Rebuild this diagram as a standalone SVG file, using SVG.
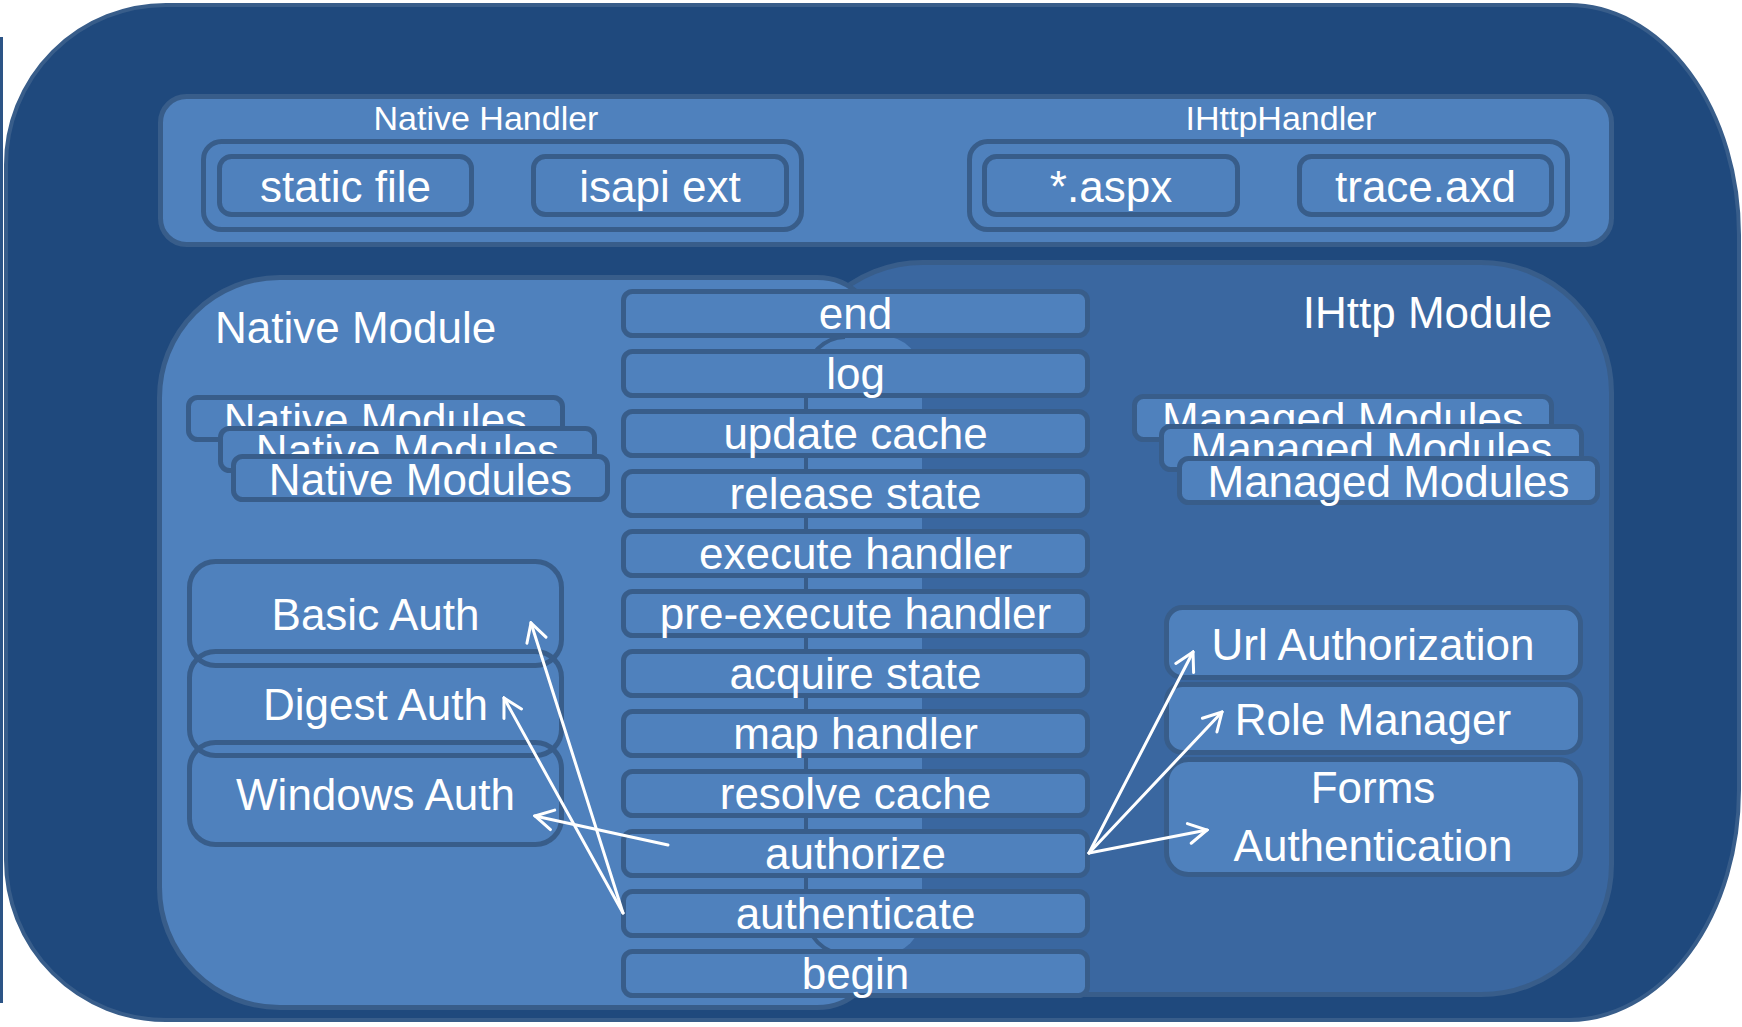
<svg xmlns="http://www.w3.org/2000/svg" width="1742" height="1027" viewBox="0 0 1742 1027">
<defs>
<style>
.box{fill:#4F81BD;stroke:#385D8A;stroke-width:5}
.open{fill:none;stroke:#385D8A;stroke-width:5}
.t{font-family:'Liberation Sans',Arial,sans-serif;fill:#FFFFFF;font-size:44px;text-anchor:middle}
.h{font-size:34px}
.s{text-anchor:start}
.arr{fill:none;stroke:#FFFFFF;stroke-width:3;stroke-linecap:round;marker-end:url(#ah)}
</style>
<marker id="ah" markerUnits="userSpaceOnUse" markerWidth="22" markerHeight="24" viewBox="0 0 22 24" refX="20" refY="12" orient="auto">
<path d="M2,2 L20,12 L2,22" fill="none" stroke="#FFFFFF" stroke-width="3" stroke-linecap="round"/>
</marker>
<clipPath id="clipN1"><rect x="186" y="395" width="380" height="31"/></clipPath>
<clipPath id="clipN2"><rect x="218" y="426" width="380" height="28"/></clipPath>
<clipPath id="clipM1"><rect x="1132" y="394" width="423" height="30"/></clipPath>
<clipPath id="clipM2"><rect x="1159" y="424" width="426" height="32"/></clipPath>
</defs>

<g id="background">
<line x1="1.5" y1="37" x2="1.5" y2="1003" stroke="#2C5486" stroke-width="3"/>
<path d="M166,5 H1569 A170,230 0 0 1 1739,235 V790 A170,230 0 0 1 1569,1020 H166 A160,160 0 0 1 6,860 V165 A160,160 0 0 1 166,5 Z" fill="#1F497D" stroke="#385D8A" stroke-width="4"/>
</g>

<g id="handler-band">
<rect class="box" x="160.5" y="96.5" width="1451" height="148" rx="26"/>
<text class="t h" x="486" y="130">Native Handler</text>
<text class="t h" x="1281" y="130">IHttpHandler</text>
</g>

<g id="native-handler">
<rect class="box" x="203.5" y="141.5" width="598" height="88" rx="18"/>
<g id="static-file">
<rect class="box" x="219.5" y="156.5" width="252" height="58" rx="12"/>
<text class="t" x="345.5" y="202">static file</text>
</g>
<g id="isapi-ext">
<rect class="box" x="533.5" y="156.5" width="253" height="58" rx="12"/>
<text class="t" x="660" y="202">isapi ext</text>
</g>
</g>

<g id="ihttp-handler">
<rect class="box" x="969.5" y="141.5" width="598" height="88" rx="18"/>
<g id="aspx">
<rect class="box" x="984.5" y="156.5" width="253" height="58" rx="12"/>
<text class="t" x="1111" y="202">*.aspx</text>
</g>
<g id="trace-axd">
<rect class="box" x="1299.5" y="156.5" width="252" height="58" rx="12"/>
<text class="t" x="1425.5" y="202">trace.axd</text>
</g>
</g>

<g id="ihttp-module">
<rect x="792.5" y="262.5" width="819" height="732" rx="130" fill="#3A67A0" stroke="#385D8A" stroke-width="5"/>
</g>

<g id="native-module">
<path d="M279.5,277.5 H817.5 A60,60 0 0 1 877.5,337.5 V947.5 A60,60 0 0 1 817.5,1007.5 H279.5 A120,120 0 0 1 159.5,887.5 V397.5 A120,120 0 0 1 279.5,277.5 Z" fill="#4F81BD" stroke="#385D8A" stroke-width="5"/>
<text class="t s" x="215" y="343">Native Module</text>
</g>

<g id="pipeline-column">
<rect x="805" y="336" width="117" height="619" rx="40" fill="#4F81BD"/>
<path d="M845,337 A40,40 0 0 0 806,376 V915 A40,40 0 0 0 845,954" fill="none" stroke="#385D8A" stroke-width="4"/>
</g>

<g id="ihttp-module-label">
<text class="t" x="1427.5" y="328">IHttp Module</text>
</g>

<g id="native-modules">
<rect class="box" x="188.5" y="397.5" width="374" height="42" rx="9"/>
<text class="t" x="375.5" y="435" clip-path="url(#clipN1)">Native Modules</text>
<rect class="box" x="220.5" y="428.5" width="374" height="42" rx="9"/>
<text class="t" x="407.5" y="466" clip-path="url(#clipN2)">Native Modules</text>
<rect class="box" x="233.5" y="456.5" width="374" height="43" rx="9"/>
<text class="t" x="420.5" y="495">Native Modules</text>
</g>

<g id="managed-modules">
<rect class="box" x="1134.5" y="396.5" width="417" height="43" rx="9"/>
<text class="t" x="1343" y="434" clip-path="url(#clipM1)">Managed Modules</text>
<rect class="box" x="1161.5" y="426.5" width="420" height="43" rx="9"/>
<text class="t" x="1371.5" y="464" clip-path="url(#clipM2)">Managed Modules</text>
<rect class="box" x="1179.5" y="458.5" width="418" height="44" rx="9"/>
<text class="t" x="1388.5" y="497">Managed Modules</text>
</g>

<g id="basic-auth">
<rect class="open" x="189.5" y="561.5" width="372" height="104" rx="26"/>
<text class="t" x="375.5" y="630">Basic Auth</text>
</g>
<g id="digest-auth">
<rect class="open" x="189.5" y="651.5" width="372" height="104" rx="26"/>
<text class="t" x="375.5" y="720">Digest Auth</text>
</g>
<g id="windows-auth">
<rect class="open" x="189.5" y="742.5" width="372" height="102" rx="26"/>
<text class="t" x="375.5" y="810">Windows Auth</text>
</g>

<g id="url-authorization">
<rect class="box" x="1166.5" y="607.5" width="414" height="70" rx="16"/>
<text class="t" x="1373" y="660">Url Authorization</text>
</g>
<g id="role-manager">
<rect class="box" x="1166.5" y="684.5" width="414" height="68" rx="16"/>
<text class="t" x="1373" y="735">Role Manager</text>
</g>
<g id="forms-authentication">
<rect class="box" x="1166.5" y="759.5" width="414" height="115" rx="22"/>
<text class="t" x="1373" y="803">Forms</text>
<text class="t" x="1373" y="861">Authentication</text>
</g>

<g id="stage-end"><rect class="box" x="623.5" y="291.5" width="464" height="44" rx="9"/><text class="t" x="855.5" y="329">end</text></g>
<g id="stage-log"><rect class="box" x="623.5" y="351.5" width="464" height="44" rx="9"/><text class="t" x="855.5" y="389">log</text></g>
<g id="stage-update-cache"><rect class="box" x="623.5" y="411.5" width="464" height="44" rx="9"/><text class="t" x="855.5" y="449">update cache</text></g>
<g id="stage-release-state"><rect class="box" x="623.5" y="471.5" width="464" height="44" rx="9"/><text class="t" x="855.5" y="509">release state</text></g>
<g id="stage-execute-handler"><rect class="box" x="623.5" y="531.5" width="464" height="44" rx="9"/><text class="t" x="855.5" y="569">execute handler</text></g>
<g id="stage-pre-execute-handler"><rect class="box" x="623.5" y="591.5" width="464" height="44" rx="9"/><text class="t" x="855.5" y="629">pre-execute handler</text></g>
<g id="stage-acquire-state"><rect class="box" x="623.5" y="651.5" width="464" height="44" rx="9"/><text class="t" x="855.5" y="689">acquire state</text></g>
<g id="stage-map-handler"><rect class="box" x="623.5" y="711.5" width="464" height="44" rx="9"/><text class="t" x="855.5" y="749">map handler</text></g>
<g id="stage-resolve-cache"><rect class="box" x="623.5" y="771.5" width="464" height="44" rx="9"/><text class="t" x="855.5" y="809">resolve cache</text></g>
<g id="stage-authorize"><rect class="box" x="623.5" y="831.5" width="464" height="44" rx="9"/><text class="t" x="855.5" y="869">authorize</text></g>
<g id="stage-authenticate"><rect class="box" x="623.5" y="891.5" width="464" height="44" rx="9"/><text class="t" x="855.5" y="929">authenticate</text></g>
<g id="stage-begin"><rect class="box" x="623.5" y="951.5" width="464" height="44" rx="9"/><text class="t" x="855.5" y="989">begin</text></g>

<g id="connectors">
<line class="arr" x1="623" y1="913" x2="531" y2="623"/>
<line class="arr" x1="623" y1="913" x2="504" y2="698"/>
<line class="arr" x1="668" y1="845" x2="535" y2="816"/>
<line class="arr" x1="1089" y1="853" x2="1193" y2="652"/>
<line class="arr" x1="1089" y1="853" x2="1222" y2="712"/>
<line class="arr" x1="1089" y1="853" x2="1207" y2="830"/>
</g>
</svg>
